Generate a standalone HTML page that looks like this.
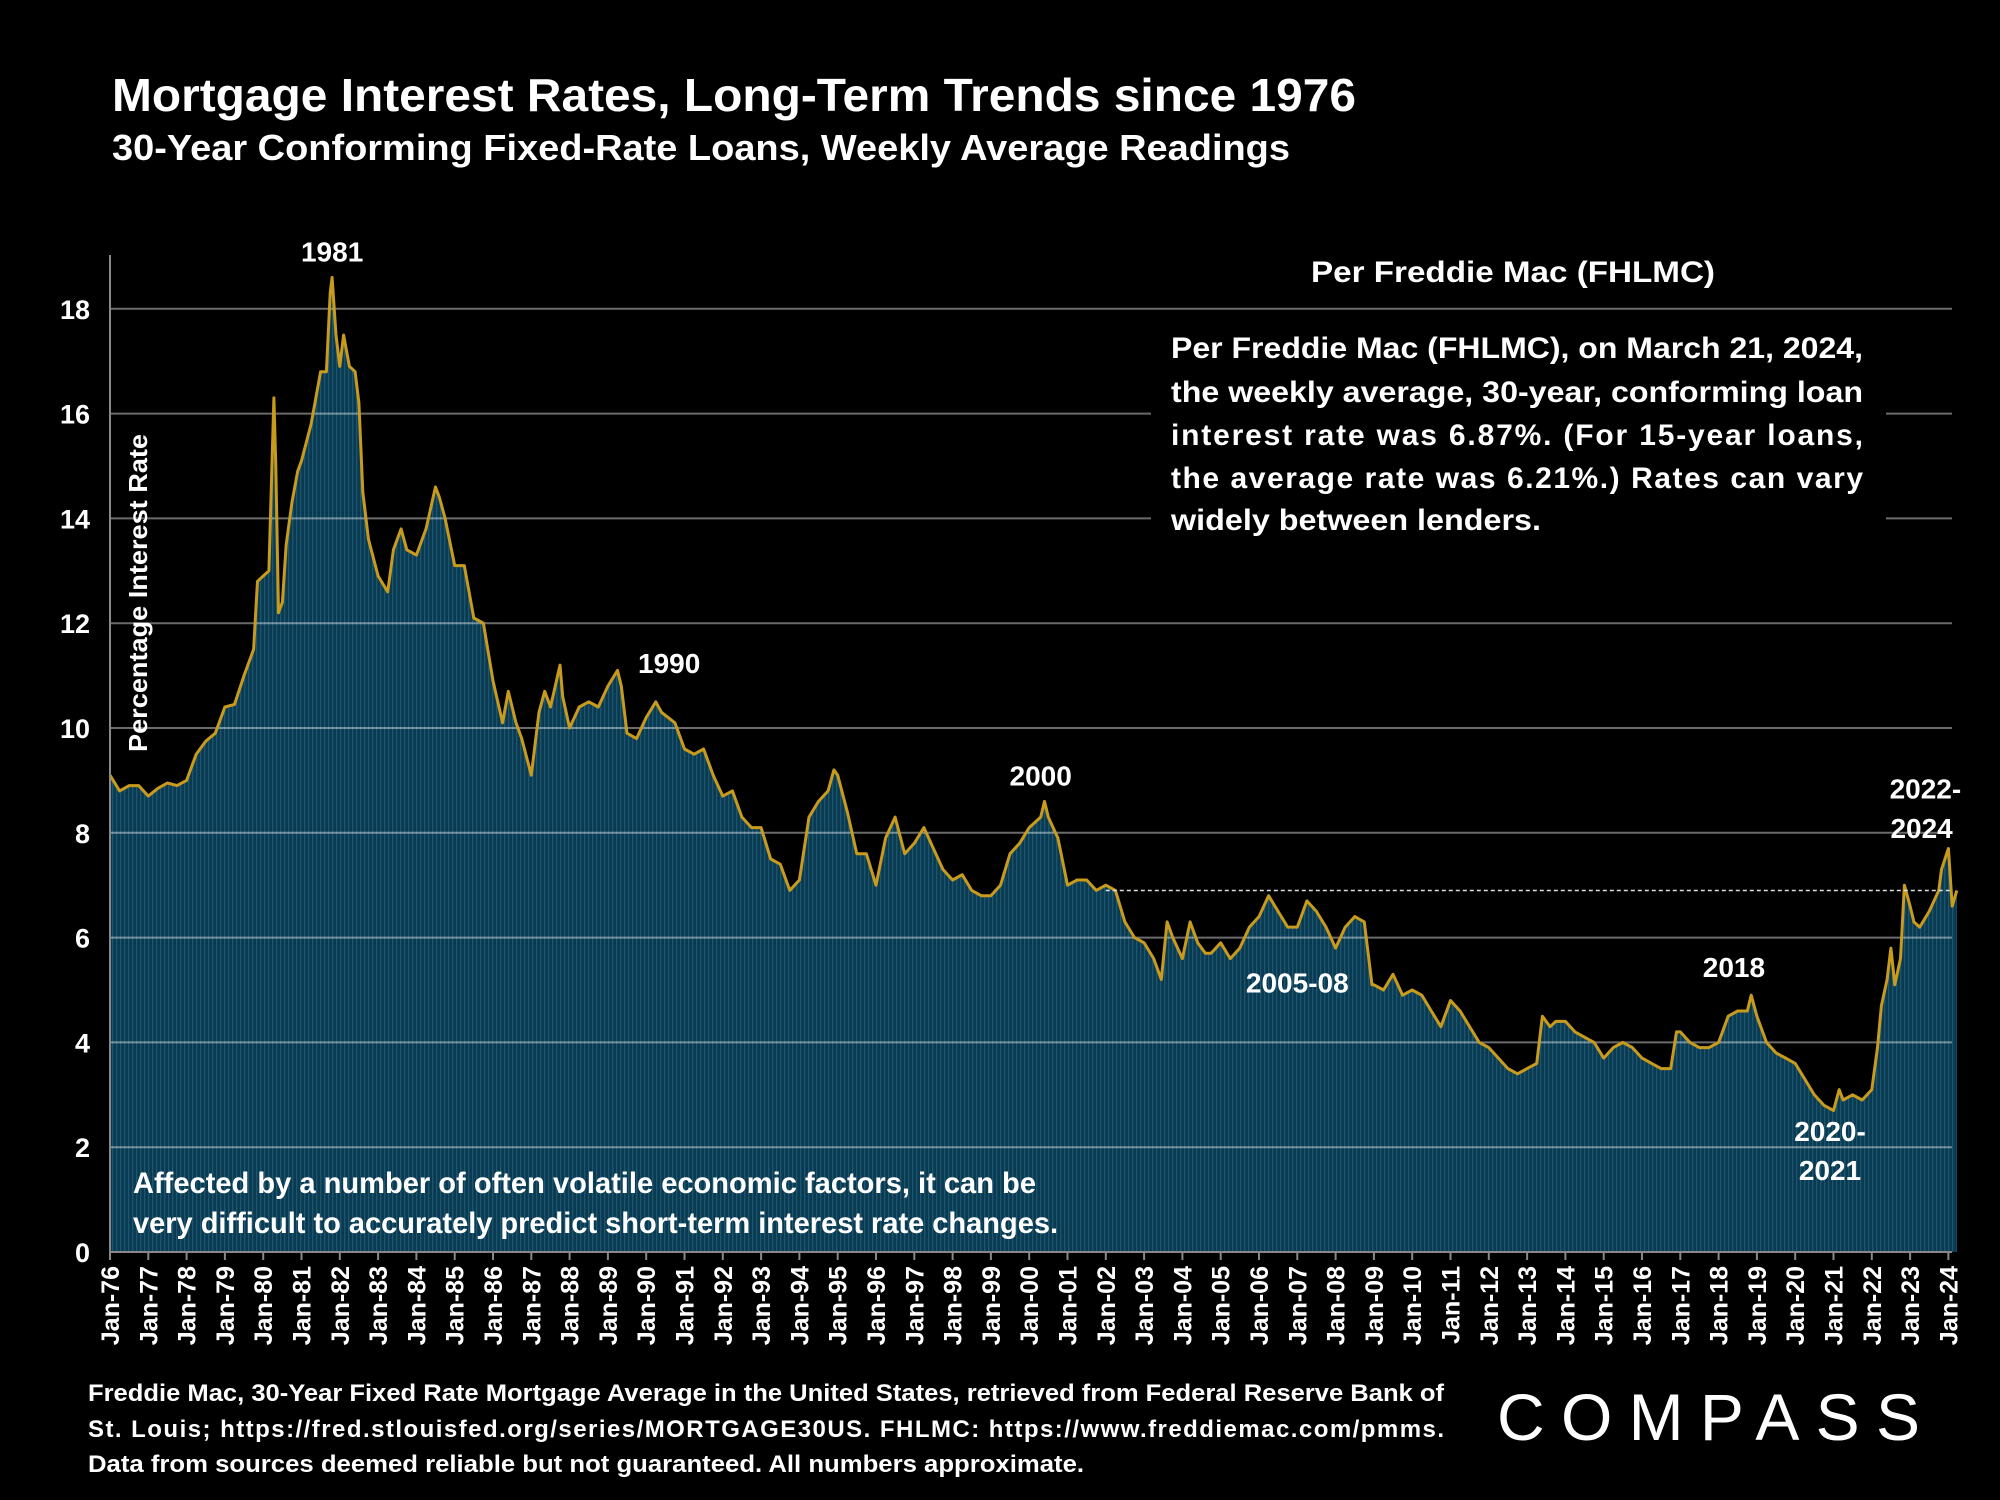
<!DOCTYPE html>
<html><head><meta charset="utf-8"><style>
html,body{margin:0;padding:0;background:#000;}
svg{display:block;font-family:"Liberation Sans",sans-serif;font-weight:bold;}
</style></head><body>
<svg id="chart" width="2000" height="1500" viewBox="0 0 2000 1500" xmlns="http://www.w3.org/2000/svg">
<defs>
<pattern id="stripes" width="4" height="10" patternUnits="userSpaceOnUse"><rect width="4" height="10" fill="#0b3a50"/><rect width="1.3" height="10" fill="#1a5672"/></pattern>
</defs>
<rect width="2000" height="1500" fill="#000"/>
<text x="112" y="111" fill="#fff" font-size="46" textLength="1244" lengthAdjust="spacingAndGlyphs">Mortgage Interest Rates, Long-Term Trends since 1976</text>
<text x="112" y="160" fill="#fff" font-size="36" textLength="1178" lengthAdjust="spacingAndGlyphs">30-Year Conforming Fixed-Rate Loans, Weekly Average Readings</text>
<g id="plot"></g>
</svg>
<script>
const dates=[1976.0,1976.25,1976.5,1976.75,1977.0,1977.25,1977.5,1977.75,1978.0,1978.25,1978.5,1978.75,1979.0,1979.25,1979.5,1979.75,1979.85,1980.0,1980.15,1980.28,1980.33,1980.4,1980.5,1980.6,1980.75,1980.9,1981.0,1981.25,1981.5,1981.65,1981.75,1981.8,1981.9,1982.0,1982.1,1982.25,1982.4,1982.5,1982.6,1982.75,1983.0,1983.25,1983.4,1983.6,1983.75,1984.0,1984.25,1984.5,1984.6,1984.75,1985.0,1985.25,1985.4,1985.5,1985.75,1986.0,1986.25,1986.4,1986.6,1986.75,1987.0,1987.2,1987.35,1987.5,1987.75,1987.82,1988.0,1988.25,1988.5,1988.75,1989.0,1989.25,1989.35,1989.5,1989.75,1990.0,1990.25,1990.4,1990.75,1991.0,1991.25,1991.5,1991.75,1992.0,1992.25,1992.5,1992.75,1993.0,1993.25,1993.5,1993.75,1994.0,1994.25,1994.5,1994.75,1994.9,1995.0,1995.25,1995.5,1995.75,1996.0,1996.25,1996.5,1996.75,1997.0,1997.25,1997.5,1997.75,1998.0,1998.25,1998.5,1998.75,1999.0,1999.25,1999.5,1999.75,2000.0,2000.3,2000.4,2000.5,2000.75,2001.0,2001.25,2001.5,2001.75,2002.0,2002.25,2002.5,2002.75,2003.0,2003.25,2003.45,2003.6,2003.75,2004.0,2004.2,2004.4,2004.6,2004.75,2005.0,2005.25,2005.5,2005.75,2006.0,2006.25,2006.5,2006.75,2007.0,2007.25,2007.5,2007.75,2008.0,2008.25,2008.5,2008.75,2008.95,2009.0,2009.25,2009.5,2009.75,2010.0,2010.25,2010.5,2010.75,2011.0,2011.25,2011.5,2011.75,2012.0,2012.25,2012.5,2012.75,2013.0,2013.25,2013.4,2013.6,2013.75,2014.0,2014.25,2014.5,2014.75,2015.0,2015.25,2015.5,2015.75,2016.0,2016.25,2016.5,2016.75,2016.9,2017.0,2017.25,2017.5,2017.75,2018.0,2018.25,2018.5,2018.75,2018.85,2019.0,2019.25,2019.5,2019.75,2020.0,2020.25,2020.5,2020.75,2021.0,2021.15,2021.25,2021.5,2021.75,2022.0,2022.15,2022.25,2022.4,2022.5,2022.6,2022.75,2022.85,2023.0,2023.1,2023.25,2023.5,2023.75,2023.82,2024.0,2024.1,2024.22];
const rates=[9.1,8.8,8.9,8.9,8.7,8.85,8.95,8.9,9.0,9.5,9.75,9.9,10.4,10.45,11.0,11.5,12.8,12.9,13.0,16.3,15.0,12.2,12.4,13.5,14.3,14.9,15.1,15.8,16.8,16.8,18.3,18.6,17.5,16.9,17.5,16.9,16.8,16.2,14.5,13.6,12.9,12.6,13.4,13.8,13.4,13.3,13.8,14.6,14.4,14.0,13.1,13.1,12.5,12.1,12.0,10.9,10.1,10.7,10.1,9.8,9.1,10.3,10.7,10.4,11.2,10.6,10.0,10.4,10.5,10.4,10.8,11.1,10.8,9.9,9.8,10.2,10.5,10.3,10.1,9.6,9.5,9.6,9.1,8.7,8.8,8.3,8.1,8.1,7.5,7.4,6.9,7.1,8.3,8.6,8.8,9.2,9.1,8.4,7.6,7.6,7.0,7.9,8.3,7.6,7.8,8.1,7.7,7.3,7.1,7.2,6.9,6.8,6.8,7.0,7.6,7.8,8.1,8.3,8.6,8.3,7.9,7.0,7.1,7.1,6.9,7.0,6.9,6.3,6.0,5.9,5.6,5.2,6.3,6.0,5.6,6.3,5.9,5.7,5.7,5.9,5.6,5.8,6.2,6.4,6.8,6.5,6.2,6.2,6.7,6.5,6.2,5.8,6.2,6.4,6.3,5.1,5.1,5.0,5.3,4.9,5.0,4.9,4.6,4.3,4.8,4.6,4.3,4.0,3.9,3.7,3.5,3.4,3.5,3.6,4.5,4.3,4.4,4.4,4.2,4.1,4.0,3.7,3.9,4.0,3.9,3.7,3.6,3.5,3.5,4.2,4.2,4.0,3.9,3.9,4.0,4.5,4.6,4.6,4.9,4.5,4.0,3.8,3.7,3.6,3.3,3.0,2.8,2.7,3.1,2.9,3.0,2.9,3.1,3.9,4.7,5.2,5.8,5.1,5.6,7.0,6.6,6.3,6.2,6.5,6.9,7.3,7.7,6.6,6.9,6.87];
const yTicks=[0,2,4,6,8,10,12,14,16,18];
const xYears=[];for(let y=1976;y<=2024;y++)xYears.push(y);
const refRate=6.9;
const annotations=[["1981",1981.8,18.9],["1990",1990.6,11.05],["2000",2000.3,8.9],["2005-08",2007.0,4.95],["2018",2018.4,5.25],["2022-",2023.4,8.65],["2024",2023.3,7.9]];

const NS="http://www.w3.org/2000/svg";
const X0=110,X1=1952,Y0=1252,YS=52.4,XS=38.3;
const xs=t=>X0+(t-1976)*XS;
const ys=v=>Y0-v*YS;
const plot=document.getElementById('plot');
function mk(tag,attrs,parent){const e=document.createElementNS(NS,tag);for(const k in attrs)e.setAttribute(k,attrs[k]);(parent||plot).appendChild(e);return e;}

let d=`M${xs(dates[0])},${Y0}`;
dates.forEach((t,i)=>{d+=` L${xs(t).toFixed(1)},${ys(rates[i]).toFixed(1)}`;});
d+=` L${xs(dates[dates.length-1])},${Y0} Z`;
const area=mk('path',{d:d,fill:'url(#stripes)'});



yTicks.forEach(v=>{
  if(v>0){
    const g=mk('line',{x1:X0,x2:X1,y1:ys(v),y2:ys(v),stroke:'rgba(255,255,255,0.42)','stroke-width':2});
    
    
  }
  const tl=mk('text',{x:90,y:ys(v)+10,fill:'#fff','font-size':27,'text-anchor':'end'});
  tl.textContent=v;
  
  
});

let ld='';
dates.forEach((t,i)=>{ld+=(i?' L':'M')+xs(t).toFixed(1)+','+ys(rates[i]).toFixed(1);});
const line=mk('path',{d:ld,fill:'none',stroke:'#c89b1c','stroke-width':3,'stroke-linejoin':'round'});



const dash=mk('line',{x1:xs(2002),x2:X1,y1:ys(refRate),y2:ys(refRate),stroke:'#ddd','stroke-width':1.5,'stroke-dasharray':'4,3'});



const ax=mk('line',{x1:X0,x2:X0,y1:255,y2:Y0,stroke:'#888','stroke-width':2});


const axx=mk('line',{x1:X0,x2:X1,y1:Y0,y2:Y0,stroke:'#888','stroke-width':2});



xYears.forEach(y=>{
  const x=xs(y);
  const tk=mk('line',{x1:x,x2:x,y1:Y0,y2:Y0+8,stroke:'#888','stroke-width':2});
  
  
  const t=mk('text',{x:0,y:0,fill:'#fff','font-size':25,'text-anchor':'end',transform:`translate(${x+9},${Y0+14}) rotate(-90)`});
  t.textContent='Jan-'+String(y).slice(2);
  
  
});

annotations.forEach(a=>{
  const t=mk('text',{x:xs(a[1]),y:ys(a[2]),fill:'#fff','font-size':28,'text-anchor':'middle'});
  t.textContent=a[0];
  
  
});
</script>
<svg style="position:absolute;left:0;top:0" width="2000" height="1500" viewBox="0 0 2000 1500" xmlns="http://www.w3.org/2000/svg">
<text x="1830" y="1141" fill="#fff" font-size="28" text-anchor="middle">2020-</text>
<text x="1830" y="1180" fill="#fff" font-size="28" text-anchor="middle">2021</text>
<text transform="translate(147,593) rotate(-90)" fill="#fff" font-size="26" text-anchor="middle" textLength="318" lengthAdjust="spacingAndGlyphs">Percentage Interest  Rate</text>
<rect x="1151" y="313" width="735" height="240" fill="#000"/>
<text x="1513" y="282" fill="#fff" font-size="30" text-anchor="middle" textLength="404" lengthAdjust="spacingAndGlyphs">Per Freddie Mac (FHLMC)</text>
<g fill="#fff" font-size="30">
<text x="1171" y="358" textLength="692" lengthAdjust="spacingAndGlyphs">Per Freddie Mac (FHLMC), on March 21, 2024,</text>
<text x="1171" y="402" textLength="692" lengthAdjust="spacingAndGlyphs">the weekly average, 30-year, conforming loan</text>
<text x="1171" y="445" textLength="692" lengthAdjust="spacing">interest rate was 6.87%. (For 15-year loans,</text>
<text x="1171" y="488" textLength="692" lengthAdjust="spacing">the average rate was 6.21%.) Rates can vary</text>
<text x="1171" y="530" textLength="370" lengthAdjust="spacingAndGlyphs">widely between lenders.</text>
</g>
<g fill="#fff" font-size="30">
<text x="133" y="1193" textLength="903" lengthAdjust="spacingAndGlyphs">Affected by a number of often volatile economic factors, it can be</text>
<text x="133" y="1233" textLength="925" lengthAdjust="spacingAndGlyphs">very difficult to accurately predict short-term interest rate changes.</text>
</g>
<g fill="#fff" font-size="24">
<text x="88" y="1401" textLength="1356" lengthAdjust="spacingAndGlyphs">Freddie Mac, 30-Year Fixed Rate Mortgage Average in the United States, retrieved from Federal Reserve Bank of</text>
<text x="88" y="1437" textLength="1356" lengthAdjust="spacing">St.  Louis;  https://fred.stlouisfed.org/series/MORTGAGE30US.  FHLMC:  https://www.freddiemac.com/pmms.</text>
<text x="88" y="1472" textLength="996" lengthAdjust="spacingAndGlyphs">Data from sources deemed reliable but not guaranteed. All numbers approximate.</text>
</g>
<text x="1497" y="1440" fill="#fff" font-size="66" font-weight="normal" textLength="423" lengthAdjust="spacing">COMPASS</text>
</svg>
</body></html>
